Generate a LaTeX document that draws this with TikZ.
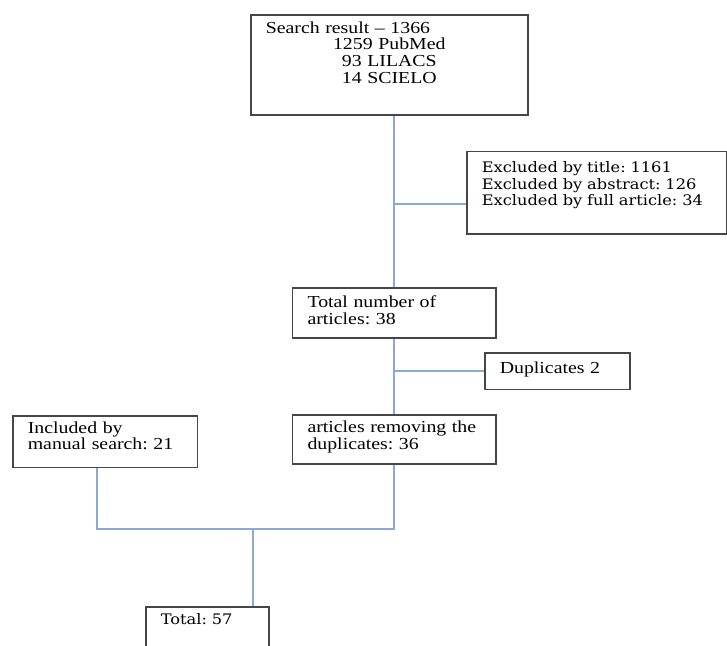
\documentclass[tikz,border=0pt]{standalone}
\usepackage{fontspec}
\setmainfont[FakeStretch=1.18]{Liberation Serif}
\newfontfamily\slabfont[FakeStretch=1.12]{DejaVu Serif}
\definecolor{linkblue}{RGB}{137,170,212}
\definecolor{boxgray}{RGB}{70,70,70}
\frenchspacing

\begin{document}
\begin{tikzpicture}[x=1pt,y=-1pt,
	box/.style={draw=boxgray, line width=1.6pt, anchor=north west,
		inner xsep=15pt, inner ysep=0pt, align=left,
		font=\fontsize{16.8}{16.7}\selectfont},
	slab/.style={font=\slabfont\fontsize{14.5}{16.7}\selectfont},
	link/.style={draw=linkblue, line width=2pt}]

\clip (0,0) rectangle (727,645);

\node [box, align=center, text width=247pt, text height=18.3pt, text depth=81.7pt] (search) at (250,14)
	{ \makebox[\linewidth][l]{Search result -- 1366}\\ 1259 PubMed\\ 93 LILACS\\ 14 SCIELO };
\node [box, slab, text width=230pt, text height=20.8pt, text depth=61.8pt] (excl) at (466,150.7)
	{ Excluded by title: 1161\\ Excluded by abstract: 126\\ Excluded by full article: 34 };
\node [box, text width=173.3pt, text height=19.4pt, text depth=30.6pt] (total) at (291.7,287.3)
	{ Total number of\\ articles: 38 };
\node [box, text width=115.3pt, text height=20.4pt, text depth=16pt] (dup) at (484,352.3)
	{ Duplicates 2 };
\node [box, text width=173.3pt, text height=17.5pt, text depth=31.8pt] (clean) at (291.7,414)
	{ articles removing the\\ duplicates: 36 };
\node [box, text width=154.7pt, text height=17.3pt, text depth=34.4pt] (manual) at (12,415)
	{ Included by\\ manual search: 21 };
\node [box, slab, text width=93.3pt, text height=17.3pt, text depth=26.7pt] (final) at (145,606)
	{ Total: 57 };

\coordinate (j1) at (393.3,204);
\coordinate (m1) at (97,528.7);
\coordinate (m2) at (253.3,528.7);

\path (search.south -| total.north) edge [link] (total.north);
\path (j1) edge [link] (j1 -| excl.west);
\path (total.south) edge [link] (clean.north);
\path (dup.west -| total.south) edge [link] (dup.west);

\draw [link] (m1 |- manual.south) -- (m1) -- (m1 -| clean.south) -- (clean.south);
\path (m2) edge [link] (m2 |- final.north);

\end{tikzpicture}
\end{document}
